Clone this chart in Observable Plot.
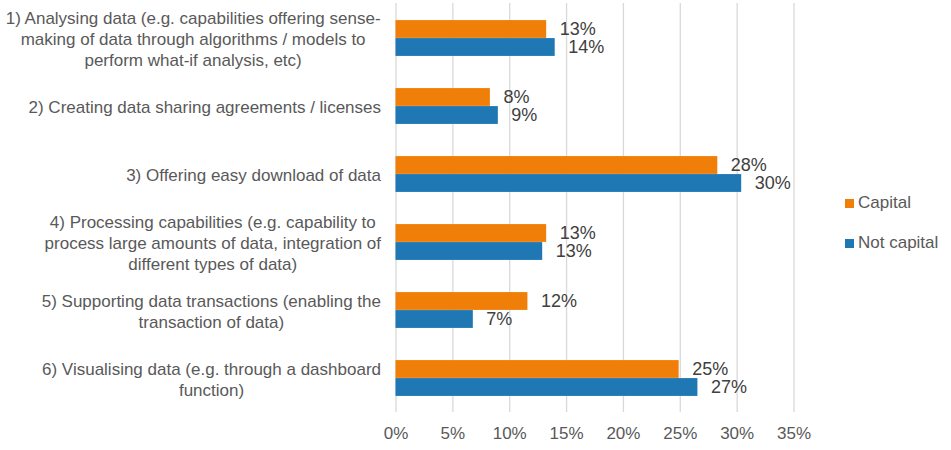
<!DOCTYPE html>
<html><head><meta charset="utf-8">
<script src="https://cdn.jsdelivr.net/npm/d3@7"></script>
<script src="https://cdn.jsdelivr.net/npm/@observablehq/plot@0.6"></script>
<style>
body{margin:0;background:#fff;font-family:"Liberation Sans",Arial,sans-serif;}
#wrap{position:relative;width:951px;height:450px;}
#legend{position:absolute;left:845px;top:183px;font-size:17px;color:#595959;}
.item{display:flex;align-items:center;height:40px;}
.sw{width:9px;height:9px;margin-right:4px;}
</style></head><body><div id="wrap"></div>
<script>
const categories = [
  "1) Analysing data (e.g. capabilities offering sense-making of data through algorithms / models to perform what-if analysis, etc)",
  "2) Creating data sharing agreements / licenses",
  "3) Offering easy download of data",
  "4) Processing capabilities (e.g. capability to process large amounts of data, integration of different types of data)",
  "5) Supporting data transactions (enabling the transaction of data)",
  "6) Visualising data (e.g. through a dashboard function)"
];
const categoryLines = [
  ["1) Analysing data (e.g. capabilities offering sense-", "making of data through algorithms / models to", "perform what-if analysis, etc)"],
  ["2) Creating data sharing agreements / licenses"],
  ["3) Offering easy download of data"],
  ["4) Processing capabilities (e.g. capability to", "process large amounts of data, integration of", "different types of data)"],
  ["5) Supporting data transactions (enabling the", "transaction of data)"],
  ["6) Visualising data (e.g. through a dashboard", "function)"]
];
const series = ["Capital", "Not capital"];
const capital = [13.25, 8.3, 28.3, 13.25, 11.6, 24.9];
const notCapital = [14.0, 9.0, 30.4, 12.9, 6.8, 26.55];
const xTicks = [0, 5, 10, 15, 20, 25, 30, 35];
const colors = ["#f07f09", "#1f77b4"];

const data = [];
categories.forEach((c, i) => {
  data.push({category: c, series: series[0], value: capital[i]});
  data.push({category: c, series: series[1], value: notCapital[i]});
});

const W = 951, H = 450, mL = 395.5, mR = 157.5, mT = 3, mB = 38;
const step = (H - mT - mB) / categories.length;
const barH = 18;
const FONT = "'Liberation Sans', Arial, sans-serif";

const ctx = document.createElement("canvas").getContext("2d");
ctx.font = "17px 'Liberation Sans'";
const labelGap = 15;

const catMarks = categories.map((c, i) => {
  const lines = categoryLines[i];
  const maxW = Math.max(...lines.map(l => ctx.measureText(l).width));
  return Plot.text([c], {
    y: d => d, text: () => lines.join("\n"), frameAnchor: "left",
    dx: -(labelGap + maxW / 2), textAnchor: "middle", lineHeight: 1.22,
    fontSize: 17, fill: "#595959"
  });
});

const plot = Plot.plot({
  width: W, height: H,
  marginLeft: mL, marginRight: mR, marginTop: mT, marginBottom: mB,
  style: {fontFamily: FONT, fontSize: "17px", color: "#595959", background: "#fff"},
  x: {domain: [0, 35], label: null},
  y: {domain: categories, padding: 0, axis: null, label: null},
  marks: [
    Plot.gridX(xTicks, {stroke: "#d9d9d9", strokeOpacity: 1, strokeWidth: 1.3}),
    Plot.barX(data.filter(d => d.series === series[0]), {
      x: "value", y: "category", fill: colors[0],
      insetTop: step / 2 - barH, insetBottom: step / 2
    }),
    Plot.barX(data.filter(d => d.series === series[1]), {
      x: "value", y: "category", fill: colors[1],
      insetTop: step / 2, insetBottom: step / 2 - barH
    }),
    Plot.text(data.filter(d => d.series === series[0]), {
      x: "value", y: "category", text: d => Math.round(d.value) + "%",
      dx: 13, dy: -9, textAnchor: "start", fontSize: 18, fill: "#404040"
    }),
    Plot.text(data.filter(d => d.series === series[1]), {
      x: "value", y: "category", text: d => Math.round(d.value) + "%",
      dx: 13, dy: 9, textAnchor: "start", fontSize: 18, fill: "#404040"
    }),
    Plot.axisX(xTicks, {tickFormat: d => d + "%", tickSize: 0, tickPadding: 14, fontSize: 17, fill: "#595959", label: null}),
    ...catMarks
  ]
});

const wrap = document.getElementById("wrap");
wrap.appendChild(plot);
const legend = document.createElement("div");
legend.id = "legend";
series.forEach((s, i) => {
  const item = document.createElement("div");
  item.className = "item";
  const sw = document.createElement("span");
  sw.className = "sw";
  sw.style.background = colors[i];
  const t = document.createElement("span");
  t.textContent = s;
  item.appendChild(sw); item.appendChild(t);
  legend.appendChild(item);
});
wrap.appendChild(legend);
</script></body></html>
